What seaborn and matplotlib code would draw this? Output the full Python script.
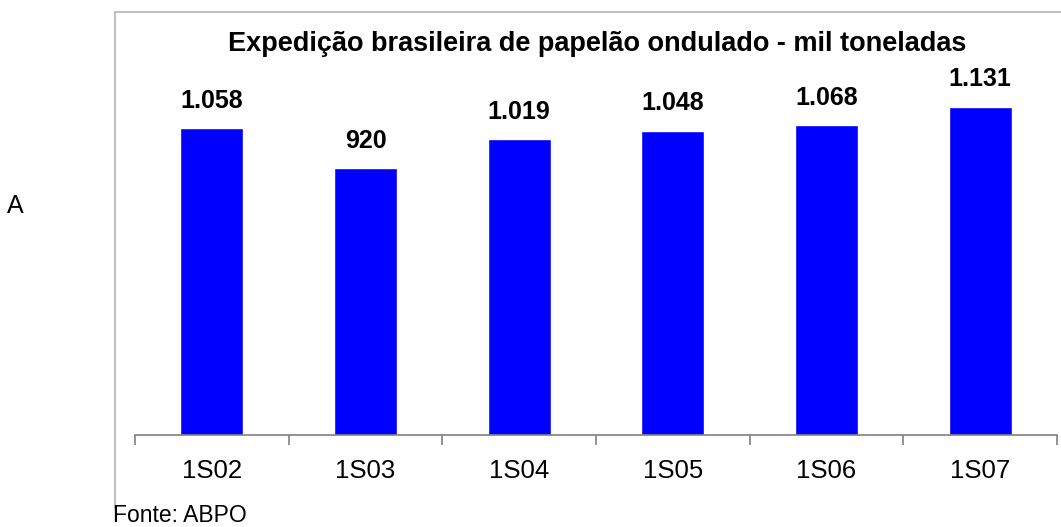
import os
import pandas as pd
import seaborn as sns
import matplotlib.pyplot as plt
from matplotlib import font_manager as fm
from matplotlib.lines import Line2D

periodos = ["1S02", "1S03", "1S04", "1S05", "1S06", "1S07"]
expedicao = [1058, 920, 1019, 1048, 1068, 1131]
rotulos = ["1.058", "920", "1.019", "1.048", "1.068", "1.131"]

df = pd.DataFrame({"Periodo": periodos, "Mil toneladas": expedicao})

sns.set_style("white")

# usar os arquivos da Liberation Sans (evita cair na versao Narrow)
arquivos = {os.path.basename(f): f for f in fm.findSystemFonts()}
reg = arquivos.get("LiberationSans-Regular.ttf")
bold = arquivos.get("LiberationSans-Bold.ttf")
fp_reg = fm.FontProperties(fname=reg) if reg else fm.FontProperties(family="DejaVu Sans")
fp_bold = fm.FontProperties(fname=bold) if bold else fm.FontProperties(family="DejaVu Sans", weight="bold")

plt.rcParams["font.family"] = ["Liberation Sans", "DejaVu Sans"]
plt.rcParams["text.color"] = "black"
plt.rcParams["xtick.color"] = "black"

W, H = 1061, 527
fig = plt.figure(figsize=(W / 100, H / 100), dpi=100)
ax = fig.add_axes([135 / W, 1 - 435 / H, 922 / W, 395 / H])

sns.barplot(data=df, x="Periodo", y="Mil toneladas", color="#0000FF",
            saturation=1, width=0.41, ax=ax)

for i, v in enumerate(expedicao):
    ax.annotate(rotulos[i], (i, v), xytext=(0, 14.5), textcoords="offset points",
                ha="center", va="baseline", fontproperties=fp_bold, fontsize=18)

ax.set_xlim(-0.5, 5.5)
ax.set_ylim(0, 1360)
ax.set_xlabel("")
ax.set_ylabel("")
ax.set_yticks([])
for s in ["left", "right", "top"]:
    ax.spines[s].set_visible(False)
ax.spines["bottom"].set_color("#808080")
ax.spines["bottom"].set_linewidth(1.2)
ax.set_xticks(range(len(periodos)))
ax.set_xticklabels(periodos)
for t in ax.get_xticklabels():
    t.set_fontproperties(fp_reg)
    t.set_fontsize(18.5)
    t.set_color("black")
ax.tick_params(axis="x", which="major", length=0, pad=17)
ax.set_xticks([i - 0.5 for i in range(len(periodos) + 1)], minor=True)
ax.tick_params(axis="x", which="minor", bottom=True, length=7, width=1.2,
               color="#808080", direction="out")

fig.text(597 / W, 1 - 51 / H, "Expedição brasileira de papelão ondulado - mil toneladas",
         ha="center", va="baseline", fontproperties=fp_bold, fontsize=19.5)

# moldura do gráfico
fig.add_artist(Line2D([115 / W, 115 / W], [1 - 12 / H, 1 - 508 / H],
                      color="#c0c0c0", lw=1.5, transform=fig.transFigure))
fig.add_artist(Line2D([115 / W, 1.0], [1 - 12 / H, 1 - 12 / H],
                      color="#c0c0c0", lw=1.5, transform=fig.transFigure))

fig.text(7 / W, 1 - 213 / H, "A", ha="left", va="baseline",
         fontproperties=fp_reg, fontsize=18)
fig.text(113 / W, 1 - 522 / H, "Fonte: ABPO", ha="left", va="baseline",
         fontproperties=fp_reg, fontsize=16.5)

fig.savefig("out.png", dpi=100)
